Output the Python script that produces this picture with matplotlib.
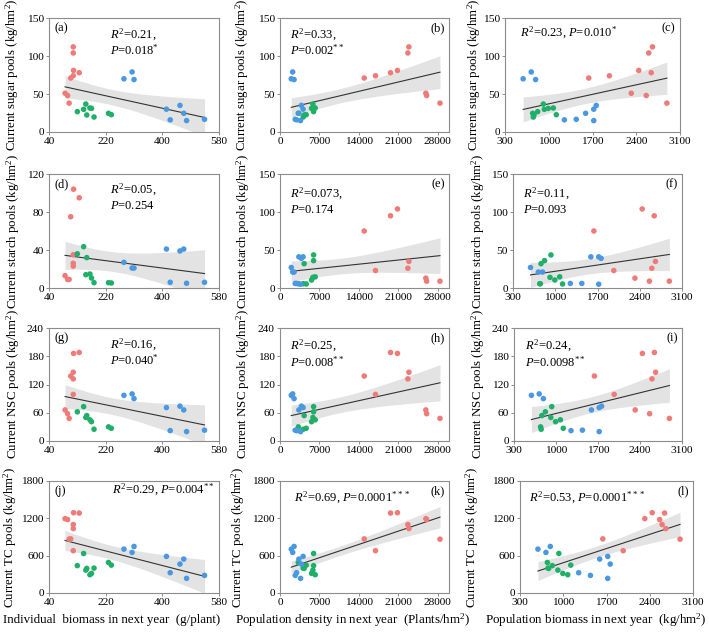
import numpy as np
import matplotlib
matplotlib.use('Agg')
import matplotlib.pyplot as plt

plt.rcParams['font.family'] = ['Liberation Serif', 'DejaVu Serif']
plt.rcParams['mathtext.fontset'] = 'custom'
plt.rcParams['mathtext.rm'] = 'Liberation Serif'
plt.rcParams['mathtext.it'] = 'Liberation Serif:italic'
plt.rcParams['mathtext.bf'] = 'Liberation Serif:bold'

# ---------------- data (9 samples per group) ----------------
# red group
red_biomass = [109, 117, 136, 118, 117, 117, 91, 99, 104]
red_density = [14950, 16950, 19620, 20850, 22700, 22880, 25890, 26030, 28400]
red_popbio = [1640, 1970, 2640, 2440, 2600, 2660, 2320, 2560, 2890]
red_sugar = [71, 74, 78, 81, 104, 112, 51, 48, 38]
red_starch = [75, 23, 95, 104, 26, 35, 13, 9, 9]
red_nsc = [138, 99, 188, 186, 132, 146, 66, 58, 48]
red_tc = [870, 680, 1285, 1290, 1100, 1035, 1195, 1180, 865]

# green group
green_biomass = [130, 150, 160, 157, 170, 175, 183, 229, 238]
green_density = [5960, 5960, 4290, 5840, 6250, 5600, 4115, 3250, 4650]
green_popbio = [823, 929, 764, 913, 1073, 993, 753, 743, 1121]
green_sugar = [26.8, 29.8, 22.4, 36.8, 31.6, 31.1, 19.7, 24.6, 22.8]
green_starch = [36, 43.5, 32, 14, 14.7, 10.5, 5.6, 5.6, 5.3]
green_nsc = [62, 73, 54, 50, 45, 41, 25, 30, 27]
green_tc = [440, 635, 395, 368, 294, 315, 400, 491, 448]

# blue group
blue_biomass = [278, 304, 310, 413, 425, 456, 468, 477, 534]
blue_density = [2000, 2250, 2500, 4100, 2950, 3800, 3350, 3650, 2700]
blue_popbio = [590, 720, 790, 1720, 1250, 1760, 1590, 1720, 1440]
blue_sugar = [70, 79, 69, 30, 16, 35, 24.6, 15, 16.7]
blue_starch = [27, 21, 21, 41, 6, 39, 41, 5, 6]
blue_nsc = [97, 100, 90, 71, 22, 74, 66, 20, 23]
blue_tc = [705, 652, 748, 588, 326, 465, 545, 235, 283]

x_labels = ['Individual  biomass in next year  (g/plant)',
            'Population density in next year  (Plants/hm$^2$)',
            'Population biomass in next year  (kg/hm$^2$)']
y_labels = ['Current sugar pools (kg/hm$^2$)',
            'Current starch pools (kg/hm$^2$)',
            'Current NSC pools (kg/hm$^2$)',
            'Current TC pools (kg/hm$^2$)']
x_ticks = [[40, 220, 400, 580], [0, 7000, 14000, 21000, 28000],
           [300, 1000, 1700, 2400, 3100]]
x_lims = [(40, 580), (0, 30000), (300, 3100)]
y_ticks = [[[0, 50, 100, 150]] * 3,
           [[0, 40, 80, 120], [0, 50, 100, 150], [0, 50, 100, 150]],
           [[0, 60, 120, 180, 240]] * 3,
           [[0, 600, 1200, 1800]] * 3]
panel_letters = ['(a)', '(b)', '(c)', '(d)', '(e)', '(f)',
                 '(g)', '(h)', '(i)', '(j)', '(k)', '(l)']
stats_r2 = ['0.21', '0.33', '0.23', '0.05', '0.073', '0.11',
            '0.16', '0.25', '0.24', '0.29', '0.69', '0.53']
stats_p = ['0.018', '0.002', '0.010', '0.254', '0.174', '0.093',
           '0.040', '0.008', '0.0098', '0.004', '0.0001', '0.0001']
stats_star = ['*', '**', '*', '', '', '', '*', '**', '**', '**', '***', '***']

groups_x = [
    [red_biomass, green_biomass, blue_biomass],
    [red_density, green_density, blue_density],
    [red_popbio, green_popbio, blue_popbio],
]
groups_y = [
    [red_sugar, green_sugar, blue_sugar],
    [red_starch, green_starch, blue_starch],
    [red_nsc, green_nsc, blue_nsc],
    [red_tc, green_tc, blue_tc],
]
colors = ['#EF7B79', '#1FAF69', '#4A98E2']

# layout in pixels: (left, right) per panel and (top, bottom) per row
W, H = 709, 635
panel_px = [
    [(49, 219), (280, 449), (505, 680)],
    [(49, 219), (280, 449), (513, 682)],
    [(49, 219), (280, 449), (514, 682)],
    [(49, 219), (280, 449), (520, 693)],
]
rows_px = [(18, 132), (174, 288), (328, 441), (481, 593)]
ylabel_x_px = [
    [12, 242, 474],
    [13, 243, 478],
    [13, 243, 478],
    [10, 238, 472],
]
xlabel_x_px = [112, 353, 596]
xlabel_y_px = 620

stat_layout = {
    0: ('two', 0.36, 0.855, 'left'), 1: ('two', 0.06, 0.855, 'left'),
    2: ('one', 0.085, 0.87, 'left'),
    3: ('two', 0.36, 0.86, 'left'), 4: ('two', 0.06, 0.825, 'left'),
    5: ('two', 0.06, 0.825, 'left'),
    6: ('two', 0.36, 0.85, 'left'), 7: ('two', 0.06, 0.84, 'left'),
    8: ('two', 0.065, 0.84, 'left'),
    9: ('one', 0.975, 0.92, 'right'), 10: ('one', 0.08, 0.85, 'left'),
    11: ('one', 0.05, 0.85, 'left'),
}

T_CRIT = 2.0595  # t(0.975, df=25)


def fit_ci(x, y):
    n = len(x)
    X = np.column_stack([np.ones(n), x])
    beta, *_ = np.linalg.lstsq(X, y, rcond=None)
    xs = np.linspace(x.min(), x.max(), 200)
    yhat = beta[0] + beta[1] * xs
    resid = y - (beta[0] + beta[1] * x)
    s = np.sqrt(np.sum(resid ** 2) / (n - 2))
    xm = x.mean()
    sxx = np.sum((x - xm) ** 2)
    se = s * np.sqrt(1.0 / n + (xs - xm) ** 2 / sxx)
    return xs, yhat, yhat - T_CRIT * se, yhat + T_CRIT * se


fig = plt.figure(figsize=(W / 100, H / 100), dpi=100)
FS_TICK = 8.2
FS_TXT = 9.0
FS_YLAB = 9.3
FS_XLAB = 9.4
spine_col = '#8c8c8c'

for r in range(4):
    for c in range(3):
        idx = r * 3 + c
        x0, x1 = panel_px[r][c]
        y0, y1 = rows_px[r]
        ax = fig.add_axes([x0 / W, 1 - y1 / H, (x1 - x0) / W, (y1 - y0) / H])
        xs_all = np.concatenate([np.asarray(v, float) for v in groups_x[c]])
        ys_all = np.concatenate([np.asarray(v, float) for v in groups_y[r]])
        xs, yh, lo, hi = fit_ci(xs_all, ys_all)
        ax.fill_between(xs, lo, hi, color='#e3e3e3', lw=0, zorder=1)
        ax.plot(xs, yh, color='#333333', lw=0.8, zorder=2)
        for gx, gy, col in zip(groups_x[c], groups_y[r], colors):
            ax.scatter(gx, gy, s=16, color=col, edgecolors='none', zorder=3)
        ax.set_xlim(*x_lims[c])
        ax.set_xticks(x_ticks[c])
        yt = y_ticks[r][c]
        ax.set_ylim(yt[0], yt[-1])
        ax.set_yticks(yt)
        ax.tick_params(direction='out', length=2.5, width=0.7, color=spine_col,
                       labelsize=FS_TICK, pad=1.2, top=False, right=False)
        for sp in ax.spines.values():
            sp.set_color(spine_col)
            sp.set_linewidth(0.8)
        fig.text(ylabel_x_px[r][c] / W, 1 - (y0 + y1) / 2 / H, y_labels[r],
                 rotation=90, ha='center', va='center', fontsize=FS_YLAB)

        if c == 0:
            ax.text(0.035, 0.91, panel_letters[idx], transform=ax.transAxes,
                    fontsize=FS_TXT, ha='left', va='center')
        else:
            ax.text(0.975, 0.91, panel_letters[idx], transform=ax.transAxes,
                    fontsize=FS_TXT, ha='right', va='center')

        mode, tx, ty, ha = stat_layout[idx]
        star = stats_star[idx]
        pstr = r'$P$=' + stats_p[idx] + (r'$^{' + star + '}$' if star else '')
        if mode == 'two':
            ax.text(tx, ty, r'$R^2$=' + stats_r2[idx] + ',', transform=ax.transAxes,
                    fontsize=FS_TXT, ha=ha, va='center')
            ax.text(tx, ty - 0.14, pstr, transform=ax.transAxes,
                    fontsize=FS_TXT, ha=ha, va='center')
        else:
            ax.text(tx, ty, r'$R^2$=' + stats_r2[idx] + ', ' + pstr,
                    transform=ax.transAxes, fontsize=FS_TXT, ha=ha, va='center')

for c in range(3):
    fig.text(xlabel_x_px[c] / W, 1 - xlabel_y_px / H, x_labels[c],
             ha='center', va='center', fontsize=FS_XLAB)

fig.savefig('out.png', dpi=100)
